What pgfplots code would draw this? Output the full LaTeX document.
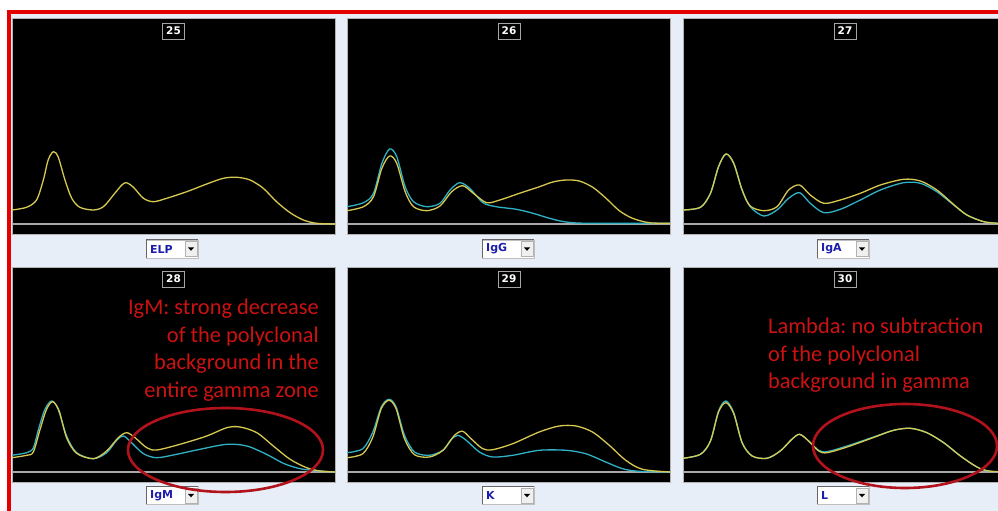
\documentclass[border=0pt]{standalone}
\usepackage{pgfplots}
\pgfplotsset{compat=1.18}
\usepackage{fontspec}
\setmainfont{DejaVu Sans}
\newfontfamily\calfont{Carlito}
\frenchspacing
\definecolor{bgblue}{RGB}{232,238,248}
\definecolor{ycurve}{RGB}{214,200,80}
\definecolor{ccurve}{RGB}{48,178,198}
\definecolor{annred}{RGB}{204,18,18}
\definecolor{ellred}{RGB}{178,18,28}
\definecolor{ddblue}{RGB}{30,30,170}
\definecolor{basegray}{RGB}{170,170,170}
\pgfplotsset{
  panel/.style={scale only axis, width=323pt, height=216pt,
    xmin=0, xmax=100, ymin=-10, ymax=206,
    axis background/.style={fill=black},
    axis line style={draw=gray!60, line width=0.8pt},
    ticks=none, clip=true},
  curve/.style={smooth, tension=0.5, line width=1.3pt, no markers},
}
\newcommand{\baseline}{\addplot[basegray, line width=1.4pt, no markers] coordinates {(0,0) (100,0)};}
\newcommand{\plabel}[3]{\node[fill=black, draw=gray!70, line width=0.8pt, text=white, inner sep=0pt,
   minimum width=22pt, minimum height=16pt, font=\bfseries\fontsize{10.5}{12}\selectfont] at (#1,#2) {#3};}
\newcommand{\dropdown}[3]{%
  \fill[white] ({#1-26},{#2-9}) rectangle ({#1+26},{#2+9});
  \draw[gray!50, line width=0.8pt] ({#1-26},{#2-9}) rectangle ({#1+26},{#2+9});
  \draw[gray!80!black, line width=1pt] ({#1-26},{#2-9}) -- ({#1-26},{#2+9}) -- ({#1+26},{#2+9});
  \fill[gray!12] ({#1+13},{#2-7.5}) rectangle ({#1+25},{#2+7.5});
  \draw[gray!60, line width=0.5pt] ({#1+13},{#2-7.5}) rectangle ({#1+25},{#2+7.5});
  \fill[black] ({#1+16},{#2+1.5}) -- ({#1+22},{#2+1.5}) -- ({#1+19},{#2-1.8}) -- cycle;
  \node[anchor=west, inner sep=0pt, text=ddblue, font=\bfseries\fontsize{11}{12}\selectfont] at ({#1-22},{#2}) {#3};
}
\begin{document}
\begin{tikzpicture}[x=1pt,y=1pt]
\useasboundingbox (0,0) rectangle (998,511);
\clip (0,0) rectangle (998,511);
\fill[white] (0,0) rectangle (998,511);
\fill[bgblue] (9,-20) rectangle (1020,499);
\draw[red!90!black, line width=3.5pt] (9,-20) rectangle (1020,499);

% ---------- row 1 ----------
\begin{axis}[panel, at={(12pt,277pt)}, anchor=south west]
\baseline
\addplot[curve, ycurve] coordinates {(0,14)(4.5,16.7)(7.6,24)(9.7,44)(11.2,64)(12.8,72.3)(14.3,67)(16.4,44)(18.5,25.7)(21,16.7)(25.2,14)(28.3,17.3)(31.4,29)(34,39)(35.5,41.3)(37.6,36.7)(40.7,25.7)(43.8,22.3)(47.9,25.7)(54.1,32.3)(60.3,40)(65.4,45.7)(69.6,46.7)(73.7,44)(77.8,35.7)(81.9,22.3)(86.1,11.3)(90.2,4)(94.3,0.7)(100,0)};
\end{axis}

\begin{axis}[panel, at={(347pt,277pt)}, anchor=south west]
\baseline
\addplot[curve, ccurve] coordinates {(0,17.3)(5.1,21.3)(8.2,30.7)(10.8,60.7)(13.2,75)(15.4,67.3)(18,37.3)(20.6,22.3)(24.7,17.3)(28.8,20.7)(31.9,34)(34.9,41.3)(38,35.7)(42.1,21.3)(46.2,17.3)(52.4,14.7)(57.6,10.7)(62.7,5.7)(67.8,2)(75,0.7)(100,0.7)};
\addplot[curve, ycurve] coordinates {(0,13.3)(5.1,17.3)(8.2,27.3)(10.8,55.7)(13.2,68)(15.4,60.7)(18,32.3)(20.6,17.3)(24.7,13.3)(28.8,18)(32.4,32.3)(35.8,38.3)(39.1,30.7)(43.2,21.3)(47.3,24)(53.4,30.7)(59.6,37.3)(63.7,42)(67.8,44)(71.9,43)(76.1,36.7)(80.2,25.7)(84.3,13.3)(88.4,5.7)(93.5,1.3)(100,0.7)};
\end{axis}

\begin{axis}[panel, at={(683pt,277pt)}, anchor=south west]
\baseline
\addplot[curve, ccurve] coordinates {(0,14)(5.4,16.7)(8.5,30.7)(11,57.3)(13.3,70)(15.7,60.7)(18.3,34)(20.8,17.3)(25,8)(29.1,14)(32.7,25.7)(36.1,31.3)(39.4,20.7)(43.6,11.3)(48.7,14.7)(54.9,24)(61.1,34)(68.3,41.3)(73.5,40.7)(78.6,32.3)(83.8,19)(87.9,9)(93.1,2.3)(97.6,0.7)(100,0.5)};
\addplot[curve, ycurve] coordinates {(0,14)(5.4,16.7)(8.5,30.7)(11,57.3)(13.3,70)(15.7,60.7)(18.3,34)(20.8,18)(25,13.3)(29.1,17.3)(32.7,34)(36.1,39)(39.4,29)(43.6,20.7)(48.7,24)(54.9,30.7)(61.1,39)(68.3,44.7)(73.5,43)(78.6,34)(83.8,19.5)(87.9,9)(93.1,2.3)(97.6,0.7)(100,0.5)};
\end{axis}

% ---------- row 2 ----------
\begin{axis}[panel, height=215pt, ymax=205, at={(12pt,29pt)}, anchor=south west]
\baseline
\addplot[curve, ccurve] coordinates {(0,16.7)(4.5,19.3)(6.6,24)(8.2,42.7)(10.2,62.7)(12.3,71)(14.3,62.7)(16.9,36)(20,19.3)(25.2,13.3)(29.3,19.3)(32.4,31.7)(34.5,36)(37,29.3)(40.7,18.3)(44.8,14.3)(51,17.7)(58.2,22.7)(66.5,27.7)(72.7,26)(78.8,17.7)(84,8.7)(89.2,3.3)(95.4,1)(100,0)};
\addplot[curve, ycurve] coordinates {(0,14.3)(4.5,16.7)(6.6,20)(8.7,42.7)(10.7,62.7)(12.6,70.3)(14.6,61)(16.9,34.3)(20,18.7)(25.2,13.3)(29.3,21)(32.9,34.3)(35.5,39.3)(38.1,34.3)(41.7,24.3)(44.8,22)(52,27.7)(60.3,36)(66.5,44.3)(70.6,45)(75.8,39.3)(80.9,26)(86.1,12.7)(91.2,4.3)(95.4,1)(100,0)};
\end{axis}

\begin{axis}[panel, height=215pt, ymax=205, at={(347pt,29pt)}, anchor=south west]
\baseline
\addplot[curve, ccurve] coordinates {(0,19.3)(4.9,23.3)(8,40)(10.6,65)(13,72.7)(15.2,65)(17.8,36.7)(20.9,20)(25.5,16.7)(29.7,21.7)(32.2,32.3)(34.3,36.7)(36.9,31.7)(41,20)(45.1,15)(51.3,16.7)(59.5,21.7)(67.8,21.7)(73.9,18.3)(80.1,10)(85.3,3.3)(90.4,0.7)(100,0)};
\addplot[curve, ycurve] coordinates {(0,14.3)(4.9,18.3)(8,35)(10.6,63.3)(13,71.7)(15.2,63.3)(17.8,33.3)(20.9,17.3)(25.5,15)(29.7,21.7)(33.3,36.7)(35.8,40.7)(38.4,33.3)(42,23.3)(45.1,22.3)(51.3,28.3)(59.5,40)(65.7,46)(70.9,46)(76,40)(81.2,26.7)(86.3,11.7)(91.5,2.7)(100,0)};
\end{axis}

\begin{axis}[panel, height=215pt, ymax=205, at={(683pt,29pt)}, anchor=south west]
\baseline
\addplot[curve, ccurve] coordinates {(0,13.7)(5.4,17.7)(8.5,31)(11,61)(13.3,71)(15.7,59.3)(18.3,29.3)(21.4,16)(26,13.7)(30.1,21)(33.7,32.7)(36.1,37.7)(38.9,31)(42,21.7)(44.6,20.3)(50.8,26)(59,35)(65.2,41.7)(70.4,43.7)(75.5,39.3)(80.7,29.3)(85.9,16)(91,5)(94.6,1)(100,0)};
\addplot[curve, ycurve] coordinates {(0,13.7)(5.4,17.7)(8.5,31)(11,60)(13.3,69.3)(15.7,58.5)(18.3,29.3)(21.4,16)(26,13.7)(30.1,21)(33.7,32.7)(36.1,37.7)(38.9,31)(42,21)(44.6,19.3)(50.8,25)(59,34.5)(65.2,41.7)(70.4,43.7)(75.5,39.3)(80.7,29.3)(85.9,16)(91,5)(94.6,1)(100,0)};
\end{axis}

% ---------- panel numbers ----------
\plabel{173.5}{480}{25}
\plabel{509}{480}{26}
\plabel{845}{480}{27}
\plabel{173.5}{232}{28}
\plabel{509}{232}{29}
\plabel{845}{232}{30}

% ---------- dropdowns ----------
\dropdown{172}{262}{ELP}
\dropdown{508}{262}{IgG}
\dropdown{843}{262}{IgA}
\dropdown{172}{15.5}{IgM}
\dropdown{508}{15.5}{K}
\dropdown{843}{15.5}{L}

% ---------- annotations ----------
\begin{scope}[every node/.style={inner sep=0pt, text=annred, font=\calfont\fontsize{22.4}{27.5}\selectfont}]
\node[anchor=base east] at (319,196) {IgM: strong decrease};
\node[anchor=base east] at (319,168.5) {of the polyclonal};
\node[anchor=base east] at (319,141) {background in the};
\node[anchor=base east] at (319,113.5) {entire gamma zone};
\node[anchor=base west] at (768,177) {Lambda: no subtraction};
\node[anchor=base west] at (768,149.5) {of the polyclonal};
\node[anchor=base west] at (768,122) {background in gamma};
\end{scope}
\draw[ellred, line width=2.6pt] (225.5,61) ellipse [x radius=97.5, y radius=42];
\draw[ellred, line width=2.6pt] (905,65) ellipse [x radius=92, y radius=42];
\end{tikzpicture}
\end{document}
